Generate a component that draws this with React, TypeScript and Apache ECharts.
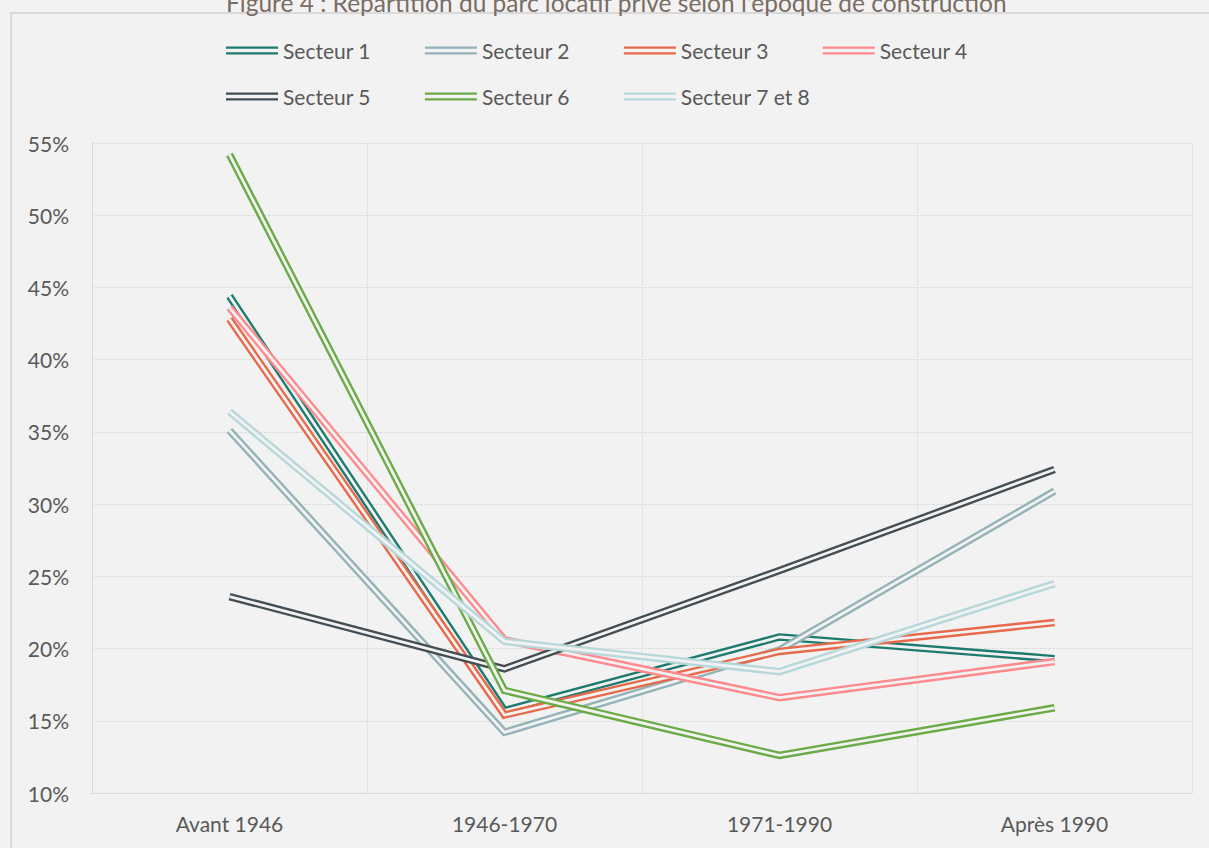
import React, { useEffect, useRef } from "react";
import * as echarts from "echarts";

const categories = ["Avant 1946", "1946-1970", "1971-1990", "Après 1990"];
const seriesNames = ["Secteur 1", "Secteur 2", "Secteur 3", "Secteur 4", "Secteur 5", "Secteur 6", "Secteur 7 et 8"];
const secteur1 = [44.4, 15.7, 20.8, 19.3];
const secteur2 = [35.1, 14.2, 19.9, 30.9];
const secteur3 = [42.8, 15.4, 19.8, 21.8];
const secteur4 = [43.6, 20.6, 16.6, 19.1];
const secteur5 = [23.6, 18.6, 25.4, 32.4];
const secteur6 = [54.2, 17.1, 12.6, 15.9];
const secteur78 = [36.4, 20.5, 18.4, 24.5];
const seriesValues = [secteur1, secteur2, secteur3, secteur4, secteur5, secteur6, secteur78];
const colors = ["#1d7a6e", "#93b3b9", "#e8694a", "#fe8a8e", "#424e54", "#6aab45", "#b6d8db"];

const FONT = "Lato, 'Liberation Sans', sans-serif";
const BG = "#f2f2f2";

export default function App() {
  const ref = useRef<HTMLDivElement>(null);
  useEffect(() => {
    document.body.style.margin = "0";
    const chart = echarts.init(ref.current!, null, { renderer: "svg" });
    const series: any[] = [];
    seriesNames.forEach((name, i) => {
      series.push({
        name,
        type: "line",
        data: seriesValues[i],
        symbol: "none",
        itemStyle: { color: colors[i] },
        lineStyle: { color: colors[i], width: 7.5, join: "miter", cap: "butt" },
        emphasis: { disabled: true },
        z: 2,
      });
      series.push({
        name: name + " (gap)",
        type: "line",
        data: seriesValues[i],
        symbol: "none",
        silent: true,
        itemStyle: { color: BG },
        lineStyle: { color: BG, width: 2.8, join: "miter", cap: "butt" },
        emphasis: { disabled: true },
        z: 2,
      });
    });
    const icon = "path://M0,0H52V2.2H0Z M0,5.8H52V8H0Z";
    const legendBase = {
      left: 226,
      padding: 0,
      icon,
      itemWidth: 52,
      itemHeight: 8,
      itemGap: 54,
      selectedMode: false,
      itemStyle: { borderWidth: 0 },
      textStyle: { fontFamily: FONT, fontSize: 21, color: "#595959" },
    };
    chart.setOption({
      animation: false,
      backgroundColor: BG,
      title: {
        text: "Figure 4 : Répartition du parc locatif privé selon l'époque de construction",
        left: 221,
        top: -15,
        textStyle: { fontFamily: FONT, fontSize: 24.5, fontWeight: "normal", color: "#7b6c64" },
      },
      graphic: [
        {
          type: "rect",
          shape: { x: 11, y: 13, width: 1220, height: 860 },
          style: { fill: "none", stroke: "#d9d9d9", lineWidth: 2 },
          silent: true,
          z: -10,
        },
      ],
      legend: [
        { ...legendBase, top: 40, data: seriesNames.slice(0, 4) },
        { ...legendBase, top: 86, data: seriesNames.slice(4) },
      ],
      grid: { left: 92, right: 17, top: 143, bottom: 55, containLabel: false },
      xAxis: {
        type: "category",
        data: categories,
        boundaryGap: true,
        axisLine: { lineStyle: { color: "#d9d9d9", width: 1 } },
        axisTick: { show: false },
        axisLabel: { fontFamily: FONT, fontSize: 21, color: "#595959", margin: 20 },
        splitLine: { show: true, lineStyle: { color: "#dedede", type: [3, 1], width: 1 } },
      },
      yAxis: {
        type: "value",
        min: 10,
        max: 55,
        interval: 5,
        axisLine: { show: true, lineStyle: { color: "#d9d9d9", width: 1 } },
        axisTick: { show: false },
        axisLabel: { fontFamily: FONT, fontSize: 21, color: "#595959", margin: 23, formatter: "{value}%" },
        splitLine: { show: true, lineStyle: { color: "#dedede", type: [3, 1], width: 1 } },
      },
      series,
    });
    return () => chart.dispose();
  }, []);
  return <div ref={ref} style={{ width: 1209, height: 848 }} />;
}
